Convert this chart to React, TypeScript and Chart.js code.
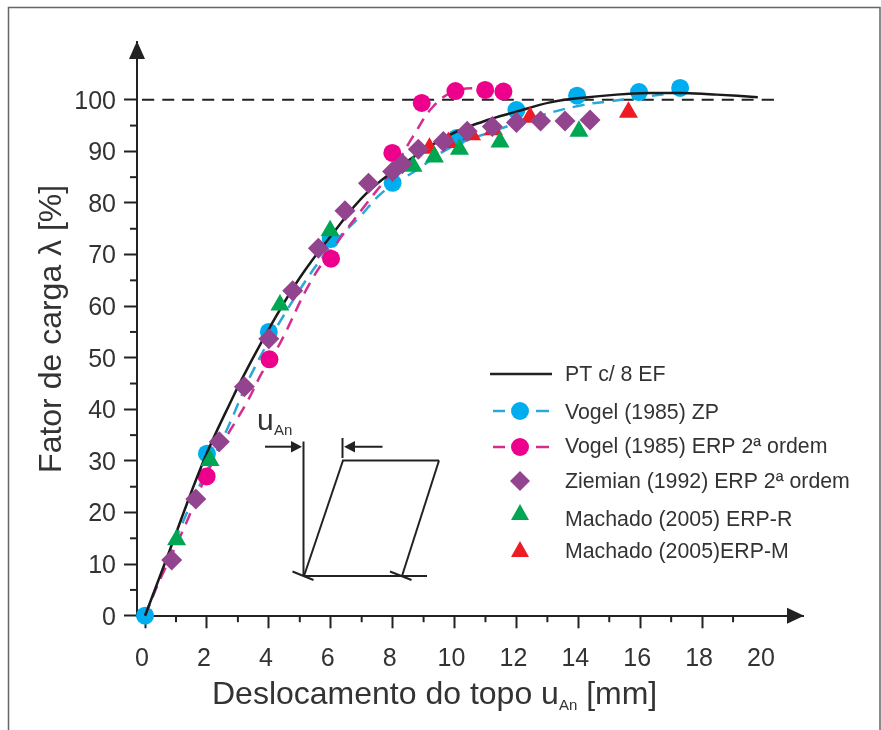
import React, { useEffect, useRef } from "react";
import { Chart, registerables } from "chart.js";

Chart.register(...registerables);

type P = { x: number; y: number };
const pts = (a: number[][]): P[] => a.map(([x, y]) => ({ x, y }));

const xTicks = [0, 2, 4, 6, 8, 10, 12, 14, 16, 18, 20];
const xMinorTicks = [1, 3, 5, 7, 9, 11, 13, 15, 17, 19];
const yTicks = [0, 10, 20, 30, 40, 50, 60, 70, 80, 90, 100];
const yMinorTicks = [5, 15, 25, 35, 45, 55, 65, 75, 85, 95];

const curvePT = [[0, 0], [0.78, 12.4], [1.89, 30], [2.85, 42.5], [3.28, 47.6], [4.04, 56], [5, 65.5], [6.08, 74.2], [7.16, 81.9], [8.45, 88], [9.85, 93.2], [10.93, 95.8], [12, 97.7], [13.09, 99.5], [14.15, 100.4], [15.24, 101], [16.3, 101.3], [17.4, 101.3], [18.47, 101], [19.8, 100.5]];
const curveZP = [[0, 0], [1.35, 19.9], [2.64, 36], [3.5, 47.6], [4.79, 61.2], [6, 71.5], [6.95, 77.4], [7.7, 82.2], [8.78, 86.4], [9.85, 90.7], [11.25, 93.9], [12.87, 97.1], [14.15, 99], [15, 99.7], [15.77, 100.3], [16.96, 101.3], [17.3, 102]];
const curveERP = [[0, 0], [0.38, 5.6], [1.23, 16.6], [2.2, 30], [3.33, 41.8], [3.77, 47], [4.36, 52.8], [5.33, 64.5], [6.2, 72.3], [7.17, 80], [8, 86.4], [8.66, 92.9], [9.31, 98.7], [10.03, 101.7], [10.99, 102.2], [11.58, 101.6]];
const referenceLine = [[-0.1, 100], [20.35, 100]];

const vogelZP = [[0, 0], [2, 31.4], [4, 55], [6, 73], [8, 83.9], [10.07, 92.6], [12, 98], [13.96, 100.8], [15.96, 101.5], [17.29, 102.3]];
const vogelERP = [[1.99, 27], [4.02, 49.7], [6.01, 69.2], [7.99, 89.7], [8.94, 99.4], [10.03, 101.7], [10.99, 101.9], [11.58, 101.6]];
const ziemian = [[0.86, 10.8], [1.64, 22.6], [2.4, 33.7], [3.21, 44.4], [4, 53.7], [4.77, 63], [5.6, 71.2], [6.46, 78.5], [7.22, 83.8], [8, 86.1], [8.31, 87.6], [8.83, 90.4], [9.64, 91.9], [10.41, 93.9], [11.22, 94.8], [12, 95.6], [12.78, 95.9], [13.57, 95.9], [14.38, 96.1]];
const machadoR = [[1.02, 14.7], [2.1, 30.1], [4.36, 60.2], [5.98, 74.6], [8.66, 87.1], [9.35, 88.9], [10.16, 90.4], [11.47, 91.8], [14.02, 93.9]];
const machadoM = [[9.19, 90.6], [9.8, 91.7], [10.55, 93.2], [11.26, 94.2], [12.44, 96.6], [15.62, 97.6]];

const FONT = '"Liberation Sans", Arial, sans-serif';
const INK = "#222";
const TEXT = "#333";
const BLUE = "#00aeef";
const BLUE_LINE = "#2aa8d8";
const PINK = "#ec008c";
const PINK_LINE = "#d42c90";
const PURPLE = "#93448e";
const GREEN = "#00a651";
const RED = "#ed1c24";

const legendRows = [
  { label: "PT c/ 8 EF", kind: "solid", color: INK, markerY: 374, textY: 375 },
  { label: "Vogel (1985) ZP", kind: "circle", color: BLUE, lineColor: BLUE_LINE, markerY: 411, textY: 413 },
  { label: "Vogel (1985) ERP 2ª ordem", kind: "circle", color: PINK, lineColor: PINK_LINE, markerY: 447, textY: 447 },
  { label: "Ziemian (1992) ERP 2ª ordem", kind: "diamond", color: PURPLE, markerY: 481, textY: 482 },
  { label: "Machado (2005) ERP-R", kind: "triangle", color: GREEN, markerY: 513, textY: 520 },
  { label: "Machado (2005)ERP-M", kind: "triangle", color: RED, markerY: 550, textY: 552 },
];

const line = (c: CanvasRenderingContext2D, x1: number, y1: number, x2: number, y2: number) => {
  c.beginPath();
  c.moveTo(x1, y1);
  c.lineTo(x2, y2);
  c.stroke();
};
const poly = (c: CanvasRenderingContext2D, p: number[][]) => {
  c.beginPath();
  p.forEach(([x, y], i) => (i ? c.lineTo(x, y) : c.moveTo(x, y)));
  c.closePath();
  c.fill();
};

const backdrop = {
  id: "backdrop",
  beforeDraw(chart: any) {
    const c = chart.ctx;
    c.save();
    c.fillStyle = "#fff";
    c.fillRect(0, 0, chart.width, chart.height);
    c.strokeStyle = "#666";
    c.lineWidth = 1.5;
    c.beginPath();
    c.moveTo(8.5, 730);
    c.lineTo(8.5, 7.5);
    c.lineTo(880, 7.5);
    c.lineTo(880, 730);
    c.stroke();
    c.restore();
  },
};

const decorations = {
  id: "decorations",
  afterDraw(chart: any) {
    const c: CanvasRenderingContext2D = chart.ctx;
    const { left, right, top, bottom } = chart.chartArea;
    const sx = chart.scales.x;
    const sy = chart.scales.y;
    c.save();

    // minor ticks and arrow heads
    c.strokeStyle = INK;
    c.fillStyle = INK;
    c.lineWidth = 2;
    xMinorTicks.forEach((v) => {
      const p = sx.getPixelForValue(v);
      line(c, p, bottom, p, bottom + 6.5);
    });
    yMinorTicks.forEach((v) => {
      const p = sy.getPixelForValue(v);
      line(c, left, p, left - 7, p);
    });
    poly(c, [[left, top - 1], [left - 8, top + 17], [left + 8, top + 17]]);
    poly(c, [[right + 1, bottom], [right - 16, bottom - 8], [right - 16, bottom + 8]]);

    // x axis title with subscript
    c.textBaseline = "alphabetic";
    c.textAlign = "left";
    c.fillStyle = TEXT;
    let x = 212;
    const y = 704;
    c.font = `32px ${FONT}`;
    c.fillText("Deslocamento do topo u", x, y);
    x += c.measureText("Deslocamento do topo u").width;
    c.font = `15px ${FONT}`;
    c.fillText("An", x, y + 6);
    x += c.measureText("An").width;
    c.font = `32px ${FONT}`;
    c.fillText(" [mm]", x, y);

    // inset frame sketch
    c.strokeStyle = INK;
    c.lineWidth = 2;
    line(c, 303.5, 441.5, 303.5, 575);
    line(c, 304, 576, 343, 460.5);
    line(c, 342, 460.5, 439, 460.5);
    line(c, 439, 460.5, 402, 576);
    line(c, 303, 576, 427, 576);
    line(c, 292.5, 571.5, 313.5, 580);
    line(c, 390, 571.5, 411.5, 580);
    line(c, 342.5, 438, 342.5, 458);
    line(c, 265, 446.7, 295, 446.7);
    line(c, 382.5, 446.7, 350, 446.7);
    c.fillStyle = INK;
    poly(c, [[302, 446.7], [291, 441], [291, 452.5]]);
    poly(c, [[344, 446.7], [355, 441], [355, 452.5]]);
    c.fillStyle = TEXT;
    c.font = `30px ${FONT}`;
    c.fillText("u", 257, 430);
    c.font = `15px ${FONT}`;
    c.fillText("An", 274, 435);

    // legend
    c.font = `21.3px ${FONT}`;
    c.textBaseline = "middle";
    legendRows.forEach((r) => {
      const mx = 520;
      const my = r.markerY;
      c.setLineDash([]);
      if (r.kind === "solid") {
        c.strokeStyle = r.color;
        c.lineWidth = 2.5;
        line(c, 490, my, 552, my);
      } else if (r.kind === "circle") {
        c.strokeStyle = r.lineColor as string;
        c.lineWidth = 2.5;
        line(c, 493, my, 505, my);
        line(c, 536, my, 549, my);
        c.fillStyle = r.color;
        c.beginPath();
        c.arc(mx, my, 9, 0, Math.PI * 2);
        c.fill();
      } else if (r.kind === "diamond") {
        c.fillStyle = r.color;
        poly(c, [[mx, my - 10], [mx + 10, my], [mx, my + 10], [mx - 10, my]]);
      } else {
        c.fillStyle = r.color;
        poly(c, [[mx, my - 9], [mx + 9, my + 7], [mx - 9, my + 7]]);
      }
      c.fillStyle = TEXT;
      c.fillText(r.label, 565, r.textY);
    });
    c.restore();
  },
};

export default function App() {
  const ref = useRef<HTMLCanvasElement>(null);
  useEffect(() => {
    const curve = (label: string, data: number[][], color: string, order: number, width: number, dash: number[]) => ({
      type: "scatter",
      label,
      data: pts(data),
      showLine: true,
      borderColor: color,
      borderWidth: width,
      borderDash: dash,
      tension: 0.4,
      pointRadius: 0,
      clip: false,
      order,
    });
    const marks = (label: string, data: number[][], color: string, style: string, radius: number, order: number) => ({
      type: "scatter",
      label,
      data: pts(data),
      showLine: false,
      backgroundColor: color,
      borderColor: color,
      borderWidth: 0,
      pointStyle: style,
      pointRadius: radius,
      clip: false,
      order,
    });
    const chart = new Chart(ref.current as HTMLCanvasElement, {
      type: "scatter",
      data: {
        datasets: [
          marks("Ziemian (1992) ERP 2ª ordem", ziemian, PURPLE, "rectRot", 10.5, 0),
          marks("Machado (2005) ERP-R", machadoR, GREEN, "triangle", 11, 1),
          marks("Machado (2005)ERP-M", machadoM, RED, "triangle", 11, 2),
          curve("PT c/ 8 EF", curvePT, "#1a1a1a", 3, 2.5, []),
          curve("Vogel (1985) ERP 2ª ordem (curva)", curveERP, PINK_LINE, 5, 2.5, [12, 8]),
          marks("Vogel (1985) ERP 2ª ordem", vogelERP, PINK, "circle", 9, 4),
          curve("Vogel (1985) ZP (curva)", curveZP, BLUE_LINE, 7, 2.5, [12, 8]),
          marks("Vogel (1985) ZP", vogelZP, BLUE, "circle", 9, 6),
          curve("100%", referenceLine, "#222", 8, 2, [12, 8]),
        ] as any,
      },
      options: {
        animation: false,
        responsive: false,
        layout: { padding: { top: 42, right: 78, left: 0, bottom: 0 } },
        plugins: { legend: { display: false }, tooltip: { enabled: false } },
        scales: {
          x: {
            type: "linear",
            min: -0.26,
            max: 21.26,
            afterBuildTicks: (s: any) => {
              s.ticks = xTicks.map((value) => ({ value }));
            },
            afterFit: (s: any) => {
              s.height = 114.3;
            },
            grid: {
              drawOnChartArea: false,
              tickLength: 12.6,
              tickWidth: 2,
              tickColor: (ctx: any) => (ctx.tick && ctx.tick.value === 20 ? "rgba(0,0,0,0)" : INK),
            },
            border: { display: true, color: INK, width: 2 },
            ticks: { autoSkip: false, maxRotation: 0, padding: 16, labelOffset: -3, color: TEXT, font: { family: FONT, size: 25 } },
          },
          y: {
            type: "linear",
            min: 0,
            max: 111.2,
            afterBuildTicks: (s: any) => {
              s.ticks = yTicks.map((value) => ({ value }));
            },
            afterFit: (s: any) => {
              s.width = 137;
            },
            grid: { drawOnChartArea: false, tickLength: 13, tickWidth: 2, tickColor: INK },
            border: { display: true, color: INK, width: 2 },
            ticks: { autoSkip: false, padding: 8, labelOffset: 2, color: TEXT, font: { family: FONT, size: 25 } },
            title: {
              display: true,
              text: "Fator de carga λ [%]",
              color: TEXT,
              font: { family: FONT, size: 32 },
              padding: { top: 33, bottom: 0 },
            },
          },
        },
      },
      plugins: [backdrop, decorations],
    } as any);
    return () => chart.destroy();
  }, []);
  return (
    <div style={{ position: "absolute", left: 0, top: 0, width: 881, height: 730, overflow: "hidden" }}>
      <canvas ref={ref} width={881} height={730} style={{ display: "block" }} />
    </div>
  );
}
